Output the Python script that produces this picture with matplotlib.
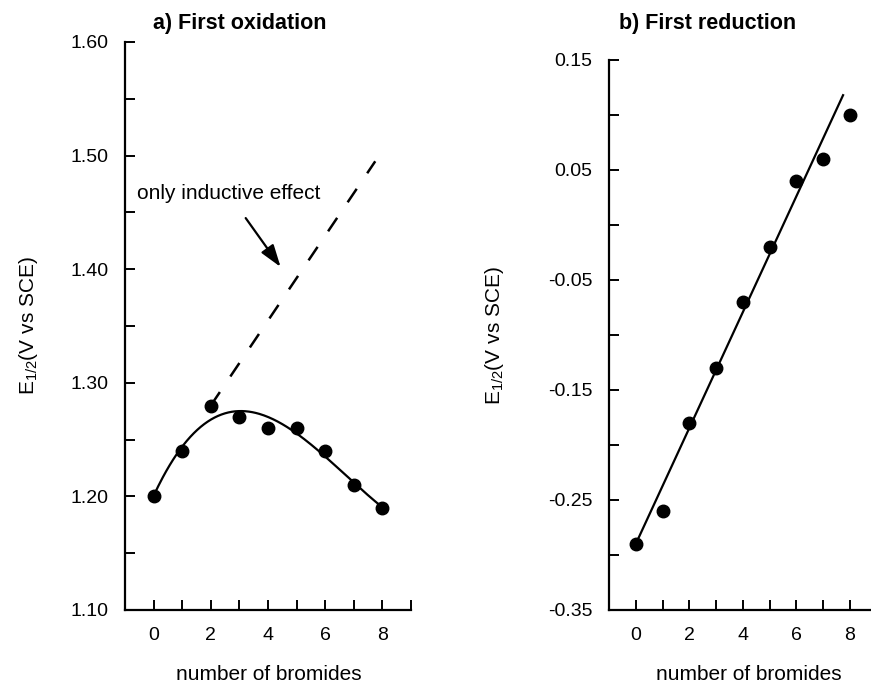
import numpy as np
import matplotlib
matplotlib.use("Agg")
import matplotlib.pyplot as plt
from matplotlib.ticker import MultipleLocator, FormatStrFormatter

plt.rcParams['font.family'] = ['Liberation Sans', 'DejaVu Sans']
plt.rcParams['mathtext.default'] = 'regular'
plt.rcParams['axes.unicode_minus'] = False

# data
bromides = [0, 1, 2, 3, 4, 5, 6, 7, 8]
e_ox = [1.20, 1.24, 1.28, 1.27, 1.26, 1.26, 1.24, 1.21, 1.19]
e_red = [-0.29, -0.26, -0.18, -0.13, -0.07, -0.02, 0.04, 0.06, 0.10]

# "only inductive effect" dashed line (end points)
induct_x = [2, 7.75]
induct_y = [1.28, 1.495]

# drawn straight line in panel b (end points)
red_line_x = [0, 7.75]
red_line_y = [-0.29, 0.118]

fig = plt.figure(figsize=(8.71, 6.84), dpi=100)
W, H = 871., 684.
ax1 = fig.add_axes([125/W, 74/H, 286/W, 568/H])
ax2 = fig.add_axes([609/W, 74/H, 267.5/W, 550/H])

def style(ax):
    for s in ['top', 'right']:
        ax.spines[s].set_visible(False)
    for s in ['left', 'bottom']:
        ax.spines[s].set_linewidth(1.6)
    ax.tick_params(which='both', direction='in', length=7, width=1.4,
                   labelsize=14, colors='k')
    ax.tick_params(axis='y', which='both', pad=12)
    ax.tick_params(axis='x', which='both', pad=12)
    ax.xaxis.set_major_locator(MultipleLocator(2))
    ax.xaxis.set_minor_locator(MultipleLocator(1))
    ax.set_xlim(-1, 9)

# panel a
style(ax1)
# smooth curve through the points (cubic fit)
coef = np.polyfit(bromides, e_ox, 3)
xs = np.linspace(0, 8, 200)
ax1.plot(xs, np.polyval(coef, xs), color='k', lw=1.6)
ax1.plot(bromides, e_ox, 'o', color='k', ms=9)
ax1.plot(induct_x, induct_y, color='k', lw=1.8, linestyle=(0, (6.5, 7.5)))
ax1.set_ylim(1.10, 1.60)
ax1.yaxis.set_major_locator(MultipleLocator(0.1))
ax1.yaxis.set_minor_locator(MultipleLocator(0.05))
ax1.yaxis.set_major_formatter(FormatStrFormatter('%.2f'))
ax1.text(2.64, 1.467, 'only inductive effect', ha='center', va='center', fontsize=15)
ax1.annotate('', xy=(4.44, 1.402), xytext=(3.22, 1.445),
             arrowprops=dict(arrowstyle='-|>,head_length=0.9,head_width=0.3',
                             color='k', lw=1.6, shrinkA=0, shrinkB=0,
                             mutation_scale=15))

# panel b
style(ax2)
ax2.plot(red_line_x, red_line_y, color='k', lw=1.6)
ax2.plot(bromides, e_red, 'o', color='k', ms=9)
ax2.set_ylim(-0.35, 0.15)
ax2.yaxis.set_major_locator(MultipleLocator(0.1, offset=0.05))
ax2.yaxis.set_minor_locator(MultipleLocator(0.05))
ax2.yaxis.set_major_formatter(FormatStrFormatter('%.2f'))

# labels and titles
fig.text(240/W, 1-23/H, 'a) First oxidation', ha='center', va='center',
         fontsize=15.5, fontweight='bold')
fig.text(708/W, 1-23/H, 'b) First reduction', ha='center', va='center',
         fontsize=15.5, fontweight='bold')
fig.text(269/W, 1-675/H, 'number of bromides', ha='center', va='center', fontsize=15)
fig.text(749/W, 1-675/H, 'number of bromides', ha='center', va='center', fontsize=15)
fig.text(28/W, 1-326/H, r'E$_{1/2}$(V vs SCE)', ha='center', va='center',
         rotation=90, fontsize=15)
fig.text(495/W, 1-336/H, r'E$_{1/2}$(V vs SCE)', ha='center', va='center',
         rotation=90, fontsize=15)

fig.savefig('out.png', dpi=100)
